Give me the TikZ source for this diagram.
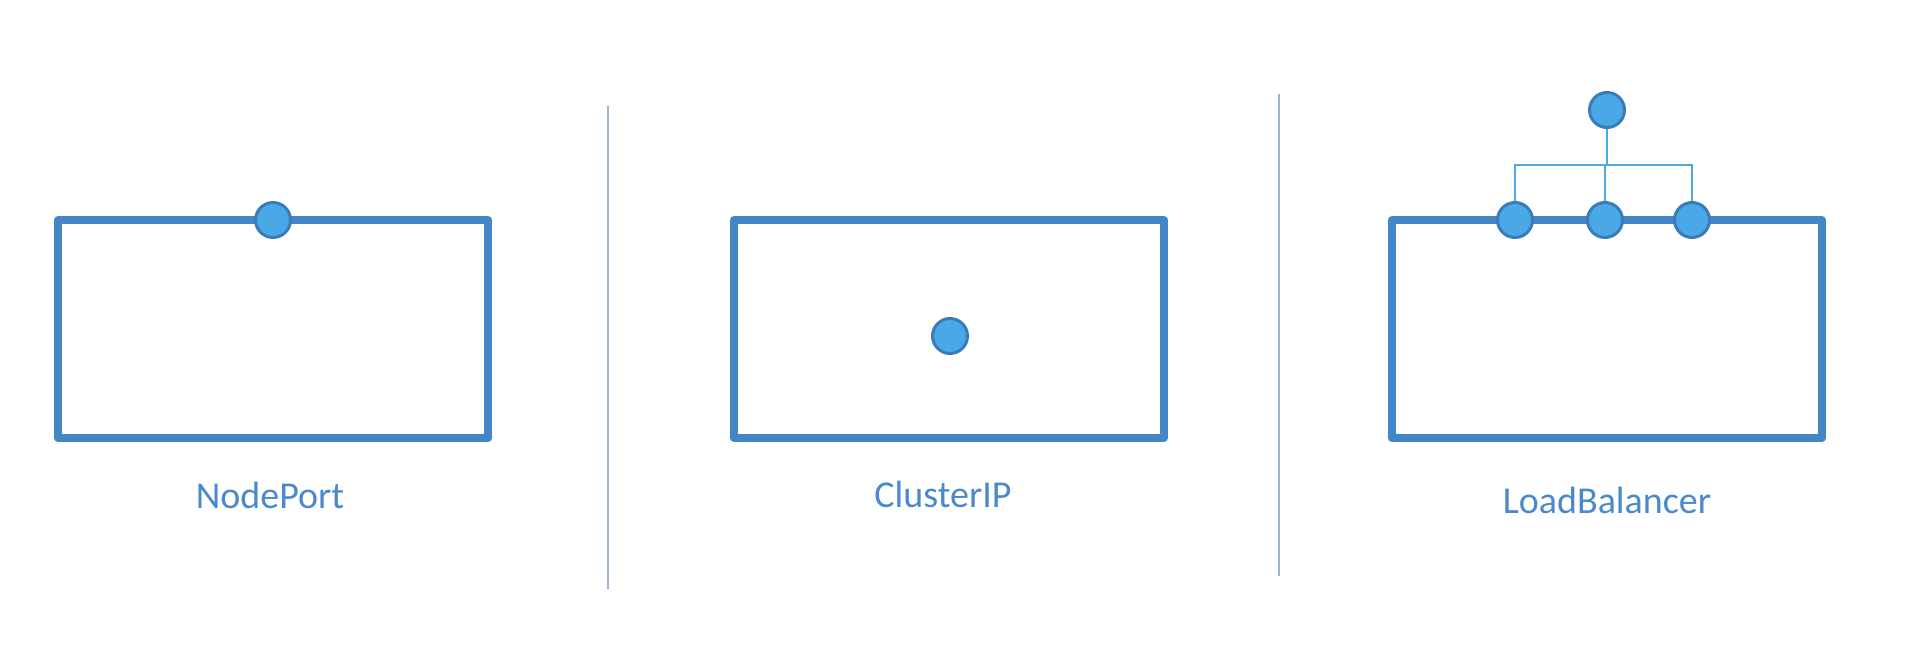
\documentclass[tikz,border=0pt]{standalone}
\usepackage{fontspec}
\setmainfont{Carlito}
\definecolor{boxblue}{HTML}{4286C6}
\definecolor{dotfill}{HTML}{4BA8E6}
\definecolor{dotline}{HTML}{3A7CBA}
\definecolor{linkblue}{HTML}{4AA8E2}
\definecolor{divider}{HTML}{9AB6D2}
\definecolor{labelblue}{HTML}{4A89CB}
\begin{document}
\begin{tikzpicture}[x=1pt,y=-1pt,
  svcbox/.style={draw=boxblue,line width=7.5pt,line join=round,rectangle,inner sep=0pt,minimum width=430pt,minimum height=218pt},
  dot/.style={circle,fill=dotfill,draw=dotline,line width=3pt,inner sep=0pt,minimum size=35pt},
  link/.style={draw=linkblue,line width=2.5pt},
  sep/.style={draw=divider,line width=1.6pt},
  lbl/.style={text=labelblue,font=\fontsize{38}{42}\selectfont,anchor=base,inner sep=0pt}]
\useasboundingbox (0,0) rectangle (1910,663);
% boxes
\node[svcbox] (np) at (273,329) {};
\node[svcbox] (cip) at (949,329) {};
\node[svcbox] (lb) at (1607,329) {};
% dots
\node[dot] (npdot) at (273,220) {};
\node[dot] (cipdot) at (950,336) {};
\node[dot] (lb1) at (1515,220) {};
\node[dot] (lb2) at (1605,220) {};
\node[dot] (lb3) at (1692,220) {};
\node[dot] (lbtop) at (1607,110) {};
% connectors
\coordinate (bar) at (1607,165);
\draw[link] (lbtop.south) -- (bar);
\draw[link] (lb1.north) |- (bar) -| (lb3.north);
\draw[link] (lb2.north) |- (bar);
% dividers
\coordinate (d1a) at (608,106);
\coordinate (d1b) at (608,589);
\coordinate (d2a) at (1279,94);
\coordinate (d2b) at (1279,576);
\draw[sep] (d1a) -- (d1b);
\draw[sep] (d2a) -- (d2b);
% labels
\node[lbl] (npl) at (270,508) {NodePort};
\node[lbl] (cipl) at (943,507) {ClusterIP};
\node[lbl] (lbl1) at (1607,513) {LoadBalancer};
\end{tikzpicture}
\end{document}
